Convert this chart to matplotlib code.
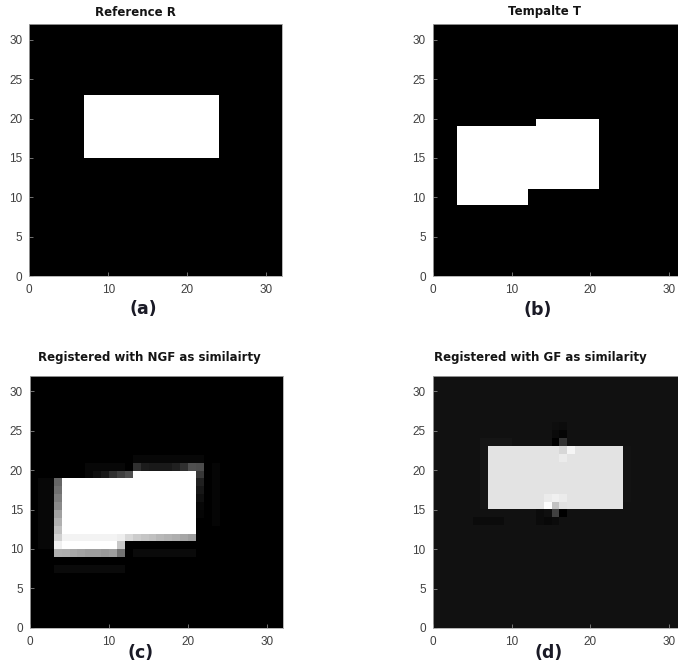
import numpy as np
import matplotlib
matplotlib.use("Agg")
import matplotlib.pyplot as plt

# ---------------- data ----------------
GRID = 32
TITLES = ["Reference R", "Tempalte T", "Registered with NGF as similairty", "Registered with GF as similarity"]
PANEL_LABELS = ["(a)", "(b)", "(c)", "(d)"]
X_TICKS = [0, 10, 20, 30]
Y_TICKS = [0, 5, 10, 15, 20, 25, 30]

# rectangles: (x0, x1, y0, y1) in pixel units
REF_RECTS = [(7, 24, 15, 23)]
TPL_RECTS = [(3, 12, 9, 19), (12, 21, 11, 19), (13, 21, 19, 20)]

# NGF result: white body + graded edge strips
NGF_BODY = [(4, 12, 10, 19), (12, 21, 12, 19), (13, 21, 19, 20)]
NGF_LEFT_EDGE = [0.69, 0.94, 0.82, 0.75, 0.69, 0.63, 0.54, 0.49, 0.44, 0.40]   # column 3, rows 9..18
NGF_BOTTOM_EDGE = [0.68, 0.66, 0.64, 0.62, 0.62, 0.60, 0.62, 0.45]             # row 9, cols 4..11
NGF_LOWER_ROW = [0.95, 0.95, 0.95, 0.95, 0.95, 0.95, 0.95, 0.93]              # row 11, cols 4..11
NGF_STEP_EDGE = [0.85, 0.80, 0.77, 0.75, 0.72, 0.70, 0.68, 0.65, 0.62]        # row 11, cols 12..20
NGF_CORNER = [0.78]                                                           # row 10, col 11
NGF_RIGHT_EDGE = [0.02, 0.03, 0.06, 0.09, 0.13, 0.22, 0.30]                   # column 21, rows 14..20
NGF_TOP_EDGE = [0.19, 0.11, 0.10, 0.10, 0.10, 0.13, 0.19, 0.31]               # row 20, cols 13..20
NGF_NOTCH_EDGE = [0.03, 0.06, 0.10, 0.19, 0.25, 0.31]                         # row 19, cols 7..12
NGF_FAINT = [(3, 12, 7, 8, 0.04), (13, 21, 9, 10, 0.04), (13, 22, 21, 22, 0.03),
             (1, 3, 10, 19, 0.03), (23, 24, 13, 21, 0.02), (7, 12, 20, 21, 0.03)]

# GF result
GF_BG = 0.067
GF_BODY_VAL = 0.89
GF_HALO = [(6, 7, 15, 24, 0.085), (6, 10, 23, 24, 0.085), (24, 25, 16, 23, 0.078),
           (5, 9, 13, 14, 0.045)]
GF_SPOT_COLS = [15, 16, 15, 16, 15, 16, 16, 17, 16, 14, 15, 16, 14, 15, 16, 13, 14, 15, 16, 13, 14, 15]
GF_SPOT_ROWS = [25, 25, 24, 24, 23, 23, 22, 22, 21, 16, 16, 16, 15, 15, 15, 14, 14, 14, 14, 13, 13, 13]
GF_SPOT_VALS = [0.055, 0.05, 0.04, 0.02, 0.0, 0.20, 0.84, 0.96, 0.92, 0.92, 0.94, 0.92,
                0.99, 0.76, 0.88, 0.045, 0.06, 0.25, 0.0, 0.045, 0.035, 0.045]


def fill(img, rects, val=1.0):
    for r in rects:
        x0, x1, y0, y1 = r[:4]
        v = r[4] if len(r) > 4 else val
        img[y0:y1, x0:x1] = v
    return img


img_ref = fill(np.zeros((GRID, GRID)), REF_RECTS)
img_tpl = fill(np.zeros((GRID, GRID)), TPL_RECTS)

img_ngf = fill(np.zeros((GRID, GRID)), NGF_FAINT)
img_ngf = fill(img_ngf, NGF_BODY)
img_ngf[9:9 + len(NGF_LEFT_EDGE), 3] = NGF_LEFT_EDGE
img_ngf[9, 4:4 + len(NGF_BOTTOM_EDGE)] = NGF_BOTTOM_EDGE
img_ngf[11, 4:4 + len(NGF_LOWER_ROW)] = NGF_LOWER_ROW
img_ngf[11, 12:12 + len(NGF_STEP_EDGE)] = NGF_STEP_EDGE
img_ngf[10, 11] = NGF_CORNER[0]
img_ngf[14:14 + len(NGF_RIGHT_EDGE), 21] = NGF_RIGHT_EDGE
img_ngf[20, 13:13 + len(NGF_TOP_EDGE)] = NGF_TOP_EDGE
img_ngf[19, 7:7 + len(NGF_NOTCH_EDGE)] = NGF_NOTCH_EDGE

img_gf = np.full((GRID, GRID), GF_BG)
img_gf = fill(img_gf, GF_HALO)
img_gf = fill(img_gf, REF_RECTS, GF_BODY_VAL)
img_gf[GF_SPOT_ROWS, GF_SPOT_COLS] = GF_SPOT_VALS

IMAGES = [img_ref, img_tpl, img_ngf, img_gf]

# ---------------- layout ----------------
W, H = 678, 669
fig = plt.figure(figsize=(W / 100, H / 100), dpi=100)
fig.patch.set_facecolor("white")

# axes boxes in pixels: left, top, width, height
BOXES = [(29.3, 24, 252.4, 252), (432.7, 24, 252.2, 252),
         (30, 375.7, 252.7, 252), (432.7, 375.7, 252.2, 252.3)]
TITLE_POS = [(135.5, 12), (544, 12), (149, 358), (540, 358)]
LABEL_POS = [(143, 309), (538, 310), (141, 653), (549, 652.5)]

for img, box, title, tpos, lab, lpos in zip(IMAGES, BOXES, TITLES, TITLE_POS, PANEL_LABELS, LABEL_POS):
    l, t, w, h = box
    ax = fig.add_axes([l / W, 1 - (t + h) / H, w / W, h / H])
    ax.imshow(img, cmap="gray", vmin=0, vmax=1, origin="lower", extent=[0, GRID, 0, GRID],
              interpolation="nearest", aspect="auto")
    ax.set_xlim(0, GRID)
    ax.set_ylim(0, GRID)
    ax.set_xticks(X_TICKS)
    ax.set_yticks(Y_TICKS)
    ax.tick_params(direction="in", length=3, width=0.5, color="#a0a0a0",
                   labelcolor="#404040", labelsize=8.5, pad=5)
    ax.tick_params(axis="x", pad=6)
    for lbl in ax.get_xticklabels() + ax.get_yticklabels():
        lbl.set_family("Liberation Sans")
    for sp in ax.spines.values():
        sp.set_color("#a8a8a8")
        sp.set_linewidth(0.6)
    fig.text(tpos[0] / W, 1 - tpos[1] / H, title, ha="center", va="center",
             fontsize=8.5, fontweight="bold", color="#141414", family="DejaVu Sans")
    fig.text(lpos[0] / W, 1 - lpos[1] / H, lab, ha="center", va="center",
             fontsize=12.5, fontweight="bold", color="#1a1a26", family="DejaVu Sans")

fig.savefig("out.png", dpi=100, facecolor="white")
